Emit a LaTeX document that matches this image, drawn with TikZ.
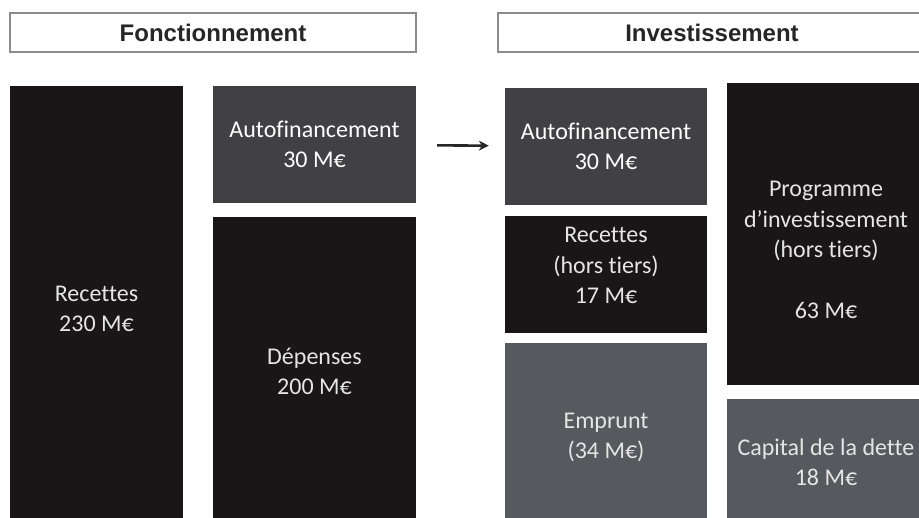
\documentclass[tikz,border=0pt]{standalone}
\usepackage{fontspec}
\setmainfont{Carlito}[Ligatures=NoCommon]
\newfontfamily\headfont{Liberation Sans}
\usepackage{xcolor}
\usetikzlibrary{shapes,arrows,arrows.meta,positioning}
\definecolor{noir}{HTML}{1A1517}
\definecolor{gris}{HTML}{414044}
\definecolor{grisclair}{HTML}{56595D}
\definecolor{bord}{HTML}{8C8C8C}
\tikzstyle{flow} = [line width=2.6pt,-{Stealth[length=10pt,width=10pt]},color=black!85,shorten <=21pt,shorten >=16pt]

\begin{document}
\begin{tikzpicture}[
    x=1pt, y=-1pt,
    every node/.style={align=center, inner sep=0pt},
    titre/.style={draw=bord, line width=1.3pt, fill=white, text=black!85,
        font=\headfont\bfseries\fontsize{24}{28}\selectfont, minimum height=39pt},
    bloc/.style={rectangle, text=black!10, font=\fontsize{24}{30}\selectfont},
    fonce/.style={bloc, fill=noir},
    moyen/.style={bloc, fill=gris, text=white},
    clair/.style={bloc, fill=grisclair},
    texte/.style={align=center, text=black!10, font=\fontsize{24}{30.5}\selectfont}
]
\useasboundingbox[fill=white] (0,0) rectangle (919,518);
\begin{scope}
\clip (0,0) rectangle (919,518);
% en-tetes
\node[titre, minimum width=406pt] (fonct) at (213,32.5) {Fonctionnement};
\node[titre, minimum width=428pt] (invest) at (712,32.5) {Investissement};

% fonctionnement
\node[fonce, minimum width=173pt, minimum height=440pt,
    label={[texte, yshift=-3pt]center:Recettes\\230 M€}] (recettes) at (96.5,306) {};
\node[moyen, minimum width=203pt, minimum height=117pt] (autoL) at (314.5,144.5) {Autofinancement\\30 M€};
\node[fonce, minimum width=203pt, minimum height=309pt] (depenses) at (314.5,371.5) {Dépenses\\200 M€};

% investissement
\node[moyen, minimum width=202pt, minimum height=117pt] (autoR) at (606,146.5) {Autofinancement\\30 M€};
\node[fonce, minimum width=202pt, minimum height=117pt,
    label={[texte, yshift=9pt]center:Recettes\\(hors tiers)\\17 M€}] (recHT) at (606,274.5) {};
\node[clair, minimum width=202pt, minimum height=183pt,
    label={[texte, yshift=-3pt]center:Emprunt\\(34 M€)}] (emprunt) at (606,434.5) {};
\node[fonce, minimum width=198pt, minimum height=302pt,
    label={[texte, yshift=-16pt]center:Programme\\d'investissement\\(hors tiers)\\[30pt]63 M€}] (programme) at (826,234) {};
\node[clair, minimum width=198pt, minimum height=127pt] (capital) at (826,462.5) {Capital de la dette\\18 M€};
\end{scope}

\draw[flow] (autoL) -- (autoR);
\end{tikzpicture}
\end{document}
